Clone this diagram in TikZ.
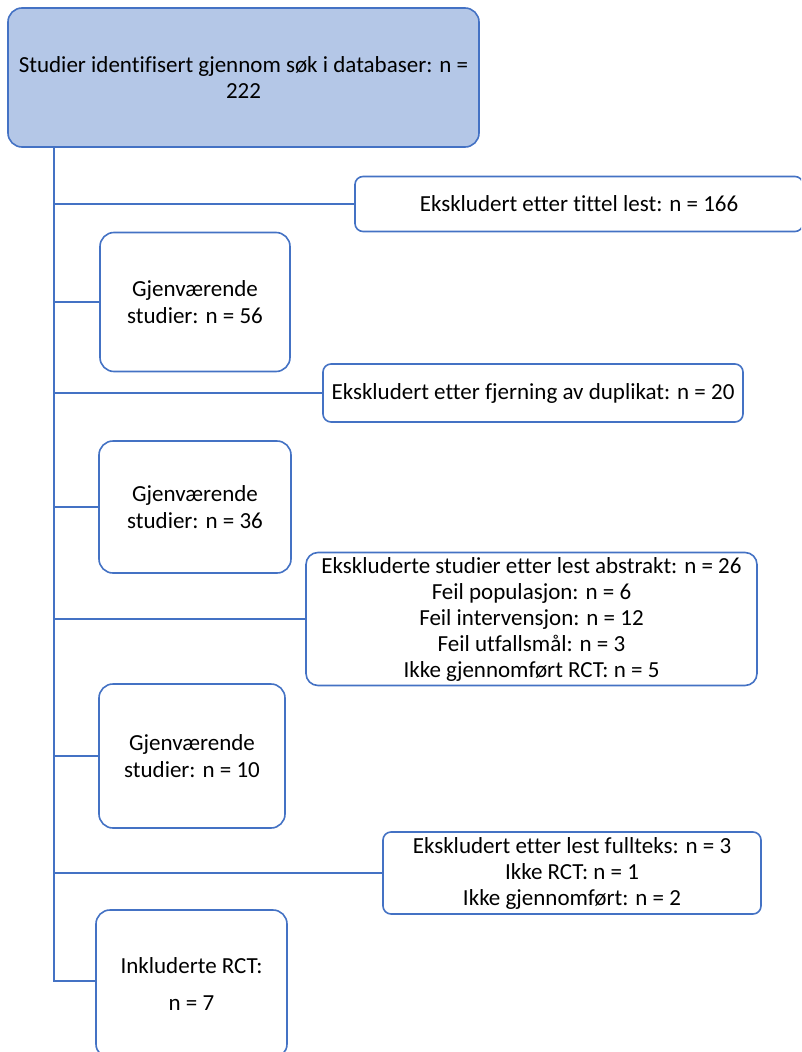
\documentclass[tikz,border=0pt]{standalone}
\usepackage{fontspec}
\setmainfont[Ligatures=CommonOff]{Carlito}
\definecolor{bordblue}{HTML}{4472C4}
\definecolor{fillblue}{HTML}{B4C7E7}
\begin{document}
\begin{tikzpicture}[x=1pt,y=-1pt,
  box/.style={draw=bordblue, line width=1.6pt, fill=white, align=center,
    inner sep=2pt, font=\fontsize{23}{26}\selectfont, text=black},
  tallbox/.style={box, rounded corners=14pt},
  flatbox/.style={box, rounded corners=8pt},
  link/.style={draw=bordblue, line width=1.6pt}]
\useasboundingbox (0,0) rectangle (801,1052);
\clip (0,0) rectangle (801,1052);
\node[tallbox, fill=fillblue, minimum width=471pt, minimum height=139pt] (top) at (243.5,77.5)
  {Studier identifisert gjennom søk i databaser: n =\\222};
\node[flatbox, minimum width=448pt, minimum height=55pt] (ex1) at (579,204)
  {Ekskludert etter tittel lest: n = 166};
\node[tallbox, minimum width=190pt, minimum height=139pt] (g56) at (195,302)
  {Gjenværende\\[1pt]studier: n = 56};
\node[flatbox, minimum width=420pt, minimum height=58pt] (ex2) at (533,393)
  {Ekskludert etter fjerning av duplikat: n = 20};
\node[tallbox, minimum width=192pt, minimum height=132pt] (g36) at (195,507)
  {Gjenværende\\[1pt]studier: n = 36};
\node[flatbox, minimum width=451pt, minimum height=133pt, rounded corners=12pt] (ex3) at (531.5,619)
  {Ekskluderte studier etter lest abstrakt: n = 26\\Feil populasjon: n = 6\\Feil intervensjon: n = 12\\Feil utfallsmål: n = 3\\Ikke gjennomført RCT: n = 5};
\node[tallbox, minimum width=186pt, minimum height=144pt] (g10) at (192,756)
  {Gjenværende\\[1pt]studier: n = 10};
\node[flatbox, minimum width=378pt, minimum height=82pt] (ex4) at (572,873)
  {Ekskludert etter lest fullteks: n = 3\\Ikke RCT: n = 1\\Ikke gjennomført: n = 2};
\node[tallbox, minimum width=191pt, minimum height=148pt] (inc) at (191.5,984)
  {Inkluderte RCT:\\[11pt]n = 7};
\coordinate (tb) at (54,981);
\draw[link] (top.south -| tb) -- (tb) -- (tb -| inc.west);
\draw[link] (tb |- ex1.west) -- (ex1.west);
\draw[link] (tb |- g56.west) -- (g56.west);
\draw[link] (tb |- ex2.west) -- (ex2.west);
\draw[link] (tb |- g36.west) -- (g36.west);
\draw[link] (tb |- ex3.west) -- (ex3.west);
\draw[link] (tb |- g10.west) -- (g10.west);
\draw[link] (tb |- ex4.west) -- (ex4.west);
\end{tikzpicture}
\end{document}
